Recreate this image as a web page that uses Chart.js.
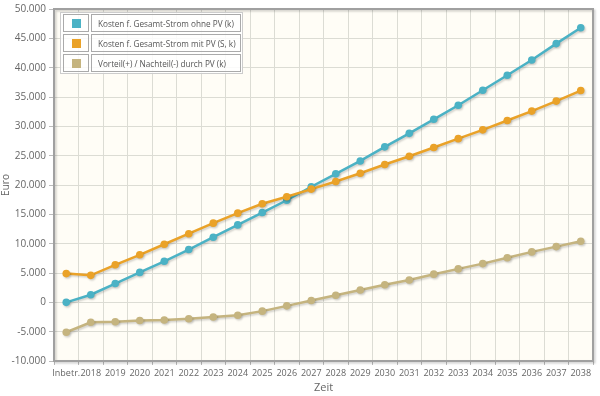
<!DOCTYPE html>
<html>
<head>
<meta charset="utf-8">
<script src="https://cdn.jsdelivr.net/npm/chart.js@4.4.0/dist/chart.umd.min.js"></script>
<style>
  html, body { margin: 0; padding: 0; background: #ffffff; }
  #wrap { position: relative; width: 600px; height: 396px; }
  #legende {
    position: absolute; left: 60px; top: 12px;
    background: rgba(255,255,255,0.85);
    border: 1px solid #cccccc;
    padding: 1px 1px 1px 2px;
    font-family: "Open Sans", sans-serif; font-size: 8.2px; color: #555555;
  }
  #legende .zeile { display: flex; height: 18px; margin: 0 0 2px 0; }
  #legende .zeile:last-child { margin-bottom: 0; }
  #legende .feld {
    width: 24px; border: 1px solid #aaaaaa; margin-right: 2px;
    display: flex; align-items: center; justify-content: center;
  }
  #legende .feld span { width: 9px; height: 9px; display: block; }
  #legende .text {
    width: 142px; border: 1px solid #aaaaaa; padding-left: 6px;
    display: flex; align-items: center; white-space: nowrap; overflow: hidden;
  }
</style>
</head>
<body>
<div id="wrap">
  <canvas id="graph1" width="600" height="396"></canvas>
  <div id="legende"></div>
</div>
<script>
// Daten
const zeit = ["Inbetr.", "2018", "2019", "2020", "2021", "2022", "2023", "2024", "2025", "2026", "2027",
  "2028", "2029", "2030", "2031", "2032", "2033", "2034", "2035", "2036", "2037", "2038"];
const kostenOhnePV = [0, 1300, 3200, 5100, 7000, 9000, 11100, 13200, 15300, 17400, 19700,
  21900, 24100, 26500, 28800, 31200, 33600, 36150, 38700, 41300, 44100, 46800];
const kostenMitPV = [4900, 4600, 6400, 8100, 9900, 11700, 13500, 15200, 16800, 18000, 19300,
  20600, 22000, 23500, 24900, 26400, 27900, 29400, 31000, 32600, 34300, 36100];
const vorteilPV = [-5100, -3400, -3300, -3100, -3000, -2800, -2500, -2200, -1500, -600, 300,
  1200, 2100, 3000, 3800, 4800, 5700, 6600, 7600, 8600, 9500, 10400];
const serienNamen = ["Kosten f. Gesamt-Strom ohne PV (k)", "Kosten f. Gesamt-Strom mit PV (S, k)", "Vorteil(+) / Nachteil(-) durch PV (k)"];
const farben = ["#4bb2c5", "#eaa228", "#c5b47f"];

function formatEuro(v) {
  const s = Math.abs(v).toString().replace(/\B(?=(\d{3})+(?!\d))/g, ".");
  return (v < 0 ? "-" : "") + s;
}

// Hintergrund + Rahmen der Zeichenfläche
const rahmen = {
  id: "rahmen",
  beforeDraw(chart) {
    const { ctx, chartArea: a } = chart;
    ctx.save();
    ctx.fillStyle = "#fffdf6";
    ctx.fillRect(a.left, a.top, a.right - a.left, a.bottom - a.top);
    ctx.restore();
  },
  beforeDatasetsDraw(chart) {
    const { ctx, chartArea: a } = chart;
    ctx.save();
    ctx.shadowColor = "rgba(0,0,0,0.2)";
    ctx.shadowOffsetX = 1.5;
    ctx.shadowOffsetY = 1.5;
    ctx.shadowBlur = 2;
    ctx.strokeStyle = "#a0a0a0";
    ctx.lineWidth = 2;
    ctx.strokeRect(a.left, a.top, a.right - a.left, a.bottom - a.top);
    ctx.restore();
  }
};

// Schatten unter den Linien
const schatten = {
  id: "schatten",
  beforeDatasetDraw(chart) {
    const ctx = chart.ctx;
    ctx.save();
    ctx.shadowColor = "rgba(0,0,0,0.18)";
    ctx.shadowOffsetX = 1.2;
    ctx.shadowOffsetY = 1.5;
    ctx.shadowBlur = 2;
  },
  afterDatasetDraw(chart) {
    chart.ctx.restore();
  }
};

const werte = [kostenOhnePV, kostenMitPV, vorteilPV];
const datasets = werte.map((d, i) => ({
  label: serienNamen[i],
  data: d,
  borderColor: farben[i],
  backgroundColor: farben[i],
  borderWidth: 2.5,
  pointRadius: 3.8,
  pointHoverRadius: 3.8,
  pointBorderWidth: 0,
  tension: 0,
  order: 3 - i
}));

// Legende als Tabelle
const legende = document.getElementById("legende");
serienNamen.forEach((name, i) => {
  const z = document.createElement("div");
  z.className = "zeile";
  z.innerHTML = "<div class='feld'><span style='background:" + farben[i] + "'></span></div><div class='text'>" + name + "</div>";
  legende.appendChild(z);
});

Chart.defaults.font.family = "'Open Sans', sans-serif";
Chart.defaults.color = "#666666";

new Chart(document.getElementById("graph1"), {
  type: "line",
  data: { labels: zeit, datasets: datasets },
  options: {
    responsive: false,
    animation: false,
    layout: { padding: { top: 8, right: 7, left: 0, bottom: 2 } },
    plugins: { legend: { display: false }, tooltip: { enabled: false } },
    scales: {
      x: {
        offset: true,
        grid: { offset: true, color: "#dcdcd4", tickLength: 4, tickColor: "#bbbbbb" },
        border: { display: false },
        ticks: { font: { size: 9 }, padding: 3, maxRotation: 0, autoSkip: false },
        title: { display: true, text: "Zeit", font: { size: 11 }, padding: { top: 3, bottom: 0 } },
        afterFit(s) { s.height = 33; }
      },
      y: {
        min: -10000,
        max: 50000,
        grid: { color: "#dcdcd4", tickLength: 5, tickColor: "#bbbbbb" },
        border: { display: false },
        ticks: { stepSize: 5000, font: { size: 10 }, padding: 3, callback: v => formatEuro(v) },
        title: { display: true, text: "Euro", font: { size: 10 }, padding: { top: 0, bottom: 4 } },
        afterFit(s) { s.width = 54; }
      }
    }
  },
  plugins: [rahmen, schatten]
});
</script>
</body>
</html>
